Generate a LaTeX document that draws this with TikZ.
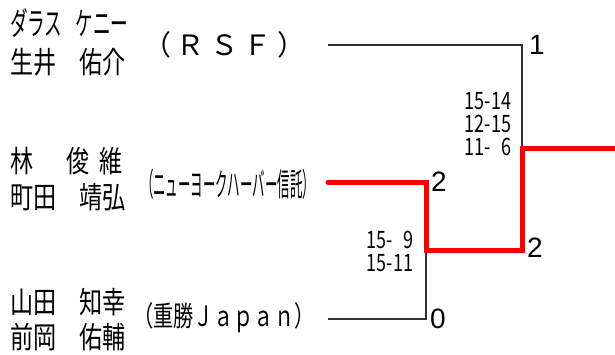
\documentclass[tikz,border=0pt]{standalone}
\usepackage{graphicx}
\usepackage{fontspec}
\setmainfont{Noto Sans CJK JP}
\newfontfamily\numfont{Liberation Sans}
\usetikzlibrary{positioning}
\newcommand\squeeze[2]{\scalebox{#1}[1]{#2}}

\begin{document}
\begin{tikzpicture}[x=1pt, y=-1pt, inner sep=0pt, outer sep=0pt,
  player/.style = {anchor=west, font=\fontsize{30}{30}\selectfont},
  team/.style = {anchor=west, font=\fontsize{28}{28}\selectfont},
  score/.style = {anchor=east, align=right, font=\fontsize{24}{23}\selectfont},
  result/.style = {font=\numfont\fontsize{28}{28}\selectfont},
  lost/.style = {draw=black!80, line width=1.1pt},
  won/.style = {draw=red, line width=5pt, line cap=round}]
	\useasboundingbox (0,0) rectangle (615,354);

	% players
	\node[player] (p1a) at (10,23) {\squeeze{0.55}{\fontsize{32}{32}\selectfont ダラス\hspace{0.75em}ケニー}};
	\node[player] (p1b) at (10,62) {\squeeze{0.77}{生井　佑介}};
	\node[player] (p2a) at (10,161) {\squeeze{0.77}{林\hspace{1.43em}俊\hspace{0.43em}維}};
	\node[player] (p2b) at (10,197) {\squeeze{0.77}{町田　靖弘}};
	\node[player] (p3a) at (10,302) {\squeeze{0.77}{山田　知幸}};
	\node[player] (p3b) at (10,337) {\squeeze{0.77}{前岡　佑輔}};

	% teams
	\node[team] (t1) at (143,45) {（\hspace{.2em}Ｒ\hspace{.2em}Ｓ\hspace{.2em}Ｆ\hspace{.2em}）};
	\node[team] (t2) at (141,184) {\squeeze{0.39}{\fontsize{32}{32}\selectfont （ニューヨークハーバー信託）}};
	\node[team] (t3) at (133,318) {\squeeze{0.72}{（重勝Ｊａｐａｎ）}};

	% bracket
	\coordinate (a1) at (328,45);
	\coordinate (j1) at (522,45);
	\coordinate (m1) at (522,148);
	\coordinate (f) at (618,148);
	\coordinate (a2) at (328,182);
	\coordinate (j2) at (426,182);
	\coordinate (m2) at (426,250);
	\coordinate (k) at (522,250);
	\coordinate (a3) at (328,319);
	\coordinate (j3) at (426,319);

	\draw[lost] (a1) -- (j1) -- (m1);
	\draw[lost] (a3) -- (j3) -- (m2);
	\draw[won] (a2) -- (j2) -- (m2) -- (k) -- (m1) -- (f);

	% results
	\node[result, anchor=west] (r1) [right=7pt of j1] {1};
	\node[result, anchor=west] (r2) [right=5pt of j2] {2};
	\node[result, anchor=west] (r3) [right=5pt of k, yshift=2pt] {2};
	\node[result, anchor=west] (r4) [right=4pt of j3] {0};

	% scores
	\node[score] (s1) at (511,124) {\squeeze{0.75}{15-14}\\\squeeze{0.75}{12-15}\\\squeeze{0.75}{11-\hphantom{0}6}};
	\node[score] (s2) at (413,251) {\squeeze{0.75}{15-\hphantom{0}9}\\\squeeze{0.75}{15-11}};
\end{tikzpicture}
\end{document}
